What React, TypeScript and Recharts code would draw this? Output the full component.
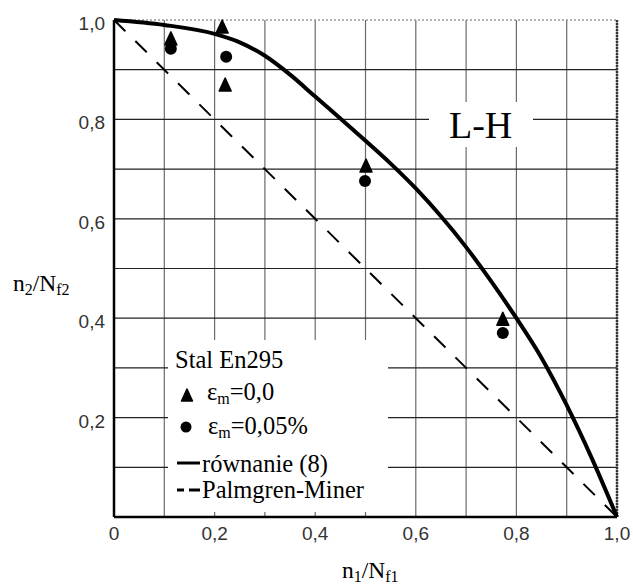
import React from 'react';
import { ComposedChart, Line, Scatter, XAxis, YAxis, CartesianGrid, ReferenceLine } from 'recharts';

// Data
const xTicks = [0, 0.1, 0.2, 0.3, 0.4, 0.5, 0.6, 0.7, 0.8, 0.9, 1];
const yTicks = [0, 0.1, 0.2, 0.3, 0.4, 0.5, 0.6, 0.7, 0.8, 0.9, 1];
const xTickLabels = ['0', '', '0,2', '', '0,4', '', '0,6', '', '0,8', '', '1,0'];
const yTickLabels = ['', '', '0,2', '', '0,4', '', '0,6', '', '0,8', '', '1,0'];
const gridYValues = [0.1, 0.2, 0.3, 0.4, 0.5, 0.6, 0.7, 0.8, 0.9];

const curveX = [0, 0.1, 0.2, 0.25, 0.3, 0.35, 0.4, 0.45, 0.5, 0.55, 0.6, 0.65, 0.7, 0.75, 0.8, 0.85, 0.9, 0.95, 1];
const curveY = [1, 0.99, 0.972, 0.955, 0.928, 0.89, 0.846, 0.802, 0.757, 0.711, 0.661, 0.605, 0.543, 0.474, 0.4, 0.32, 0.225, 0.118, 0];

const minerX = [0, 1];
const minerY = [1, 0];

const triX = [0.113, 0.215, 0.221, 0.501, 0.773];
const triY = [0.962, 0.986, 0.869, 0.706, 0.398];

const circX = [0.113, 0.223, 0.499, 0.773];
const circY = [0.942, 0.926, 0.676, 0.37];

const curveData = curveX.map((x, i) => ({ x, y: curveY[i] }));
const minerData = minerX.map((x, i) => ({ x, y: minerY[i] }));
const triData = triX.map((x, i) => ({ x, y: triY[i] }));
const circData = circX.map((x, i) => ({ x, y: circY[i] }));

const SERIF = '"Liberation Serif", "Times New Roman", serif';
const SANS = '"Liberation Sans", Arial, sans-serif';

const XTick = (props: any) => {
  const { x, y, payload } = props;
  const i = xTicks.indexOf(payload.value);
  const label = i >= 0 ? xTickLabels[i] : '';
  if (!label) return <g />;
  return (
    <text x={x} y={y + 23} textAnchor="middle" fontFamily={SANS} fontSize={19} fill="#333">
      {label}
    </text>
  );
};

const YTick = (props: any) => {
  const { x, y, payload } = props;
  const i = yTicks.indexOf(payload.value);
  const label = i >= 0 ? yTickLabels[i] : '';
  if (!label) return <g />;
  return (
    <text x={x - 9} y={y + 10} textAnchor="end" fontFamily={SANS} fontSize={19} fill="#333">
      {label}
    </text>
  );
};

const Triangle = (props: any) => {
  const { cx, cy } = props;
  if (cx == null || cy == null) return <g />;
  return (
    <polygon
      points={`${cx},${cy - 7} ${cx - 6},${cy + 6} ${cx + 6},${cy + 6}`}
      fill="#000"
      stroke="#000"
      strokeWidth={1.5}
      strokeLinejoin="round"
    />
  );
};

const Dot = (props: any) => {
  const { cx, cy } = props;
  if (cx == null || cy == null) return <g />;
  return <circle cx={cx} cy={cy} r={6} fill="#000" />;
};

export default function App() {
  return (
    <div style={{ position: 'absolute', left: 0, top: 0, width: 633, height: 587, background: '#fff' }}>
      <ComposedChart
        width={633}
        height={587}
        margin={{ top: 20, right: 16, bottom: 0, left: 0 }}
      >
        <CartesianGrid horizontal={false} vertical={true} stroke="#6a6a6a" strokeWidth={1.2} />
        <CartesianGrid horizontal={true} vertical={false} stroke="#222" strokeWidth={1.2} horizontalValues={gridYValues} />
        <XAxis
          type="number"
          dataKey="x"
          domain={[0, 1]}
          ticks={xTicks}
          interval={0}
          tickSize={0}
          tickMargin={0}
          tick={<XTick />}
          axisLine={{ stroke: '#000', strokeWidth: 2.5 }}
          tickLine={false}
          height={70}
        />
        <YAxis
          type="number"
          dataKey="y"
          domain={[0, 1]}
          ticks={yTicks}
          interval={0}
          tickSize={0}
          tickMargin={0}
          tick={<YTick />}
          axisLine={{ stroke: '#000', strokeWidth: 2.5 }}
          tickLine={false}
          width={114}
        />
        <ReferenceLine y={1} stroke="#999" strokeDasharray="2 2" strokeWidth={1.5} />
        <ReferenceLine x={1} stroke="#333" strokeDasharray="2 1" strokeWidth={2.5} />
        <Line
          data={minerData}
          dataKey="y"
          type="linear"
          stroke="#000"
          strokeWidth={2}
          strokeDasharray="16 14"
          dot={false}
          activeDot={false}
          isAnimationActive={false}
        />
        <Line
          data={curveData}
          dataKey="y"
          type="monotone"
          stroke="#000"
          strokeWidth={4}
          dot={false}
          activeDot={false}
          isAnimationActive={false}
        />
        <Scatter data={triData} dataKey="y" shape={<Triangle />} isAnimationActive={false} />
        <Scatter data={circData} dataKey="y" shape={<Dot />} isAnimationActive={false} />
      </ComposedChart>

      <svg
        width={633}
        height={587}
        style={{ position: 'absolute', left: 0, top: 0, pointerEvents: 'none' }}
      >
        {/* L-H label box */}
        <rect x={429} y={102} width={104} height={45} fill="#fff" />
        <text x={449} y={138} fontFamily={SERIF} fontSize={38} fill="#000">L-H</text>

        {/* legend box */}
        <rect x={168} y={340} width={220} height={172} fill="#fff" />
        <g fontFamily={SERIF} fontSize={24.5} fill="#000">
          <text x={175} y={368}>Stal En295</text>

          <polygon points="187,389 181.5,401 192.5,401" fill="#000" stroke="#000" strokeWidth={1.5} strokeLinejoin="round" />
          <text x={207} y={400}>
            ε<tspan fontSize={16} dy={4}>m</tspan><tspan dy={-4}>=0,0</tspan>
          </text>

          <circle cx={186} cy={427} r={5.5} fill="#000" />
          <text x={208} y={434}>
            ε<tspan fontSize={16} dy={4}>m</tspan><tspan dy={-4}>=0,05%</tspan>
          </text>

          <line x1={177} y1={463} x2={200} y2={463} stroke="#000" strokeWidth={3} />
          <text x={202} y={472}>równanie (8)</text>

          <line x1={177} y1={490} x2={184} y2={490} stroke="#000" strokeWidth={3} />
          <line x1={189} y1={490} x2={200} y2={490} stroke="#000" strokeWidth={3} />
          <text x={202} y={498}>Palmgren-Miner</text>
        </g>

        {/* axis titles */}
        <text x={13} y={291} fontFamily={SERIF} fontSize={23.5} fill="#000">
          n<tspan fontSize={16} dy={4}>2</tspan><tspan dy={-4}>/N</tspan><tspan fontSize={16} dy={4}>f2</tspan>
        </text>
        <text x={342} y={578} fontFamily={SERIF} fontSize={23.5} fill="#000">
          n<tspan fontSize={16} dy={4}>1</tspan><tspan dy={-4}>/N</tspan><tspan fontSize={16} dy={4}>f1</tspan>
        </text>
      </svg>
    </div>
  );
}
